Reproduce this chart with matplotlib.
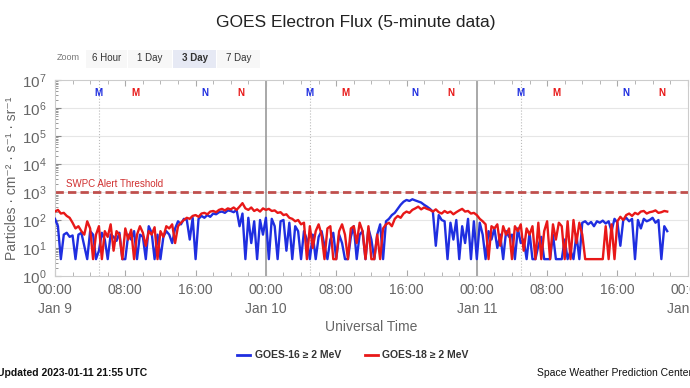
import numpy as np
import matplotlib.pyplot as plt
from matplotlib.patches import Rectangle
from matplotlib.ticker import FixedLocator, LogLocator, NullFormatter

plt.rcParams['font.family'] = ['Liberation Sans', 'DejaVu Sans']
plt.rcParams['mathtext.fontset'] = 'custom'
plt.rcParams['mathtext.rm'] = 'Liberation Sans'

# GOES-16 >= 2 MeV, 20-minute samples from 2023-01-09 00:00 UTC (4 hours per row)
goes16 = [
    110, 60, 4, 30, 35, 25, 28, 4, 30, 35, 12, 4,
    40, 30, 4, 8, 35, 20, 4, 30, 25, 18, 35, 4,
    4, 30, 20, 40, 4, 30, 25, 4, 60, 35, 4, 30,
    4, 25, 40, 30, 15, 50, 90, 70, 110, 100, 20, 120,
    4, 110, 140, 120, 150, 130, 170, 160, 190, 200, 180, 220,
    210, 190, 230, 60, 170, 4, 120, 15, 90, 4, 100, 30,
    120, 4, 110, 60, 4, 90, 100, 8, 80, 4, 60, 40,
    4, 40, 20, 4, 30, 4, 25, 40, 12, 4, 20, 35,
    4, 30, 15, 4, 4, 25, 60, 4, 30, 40, 4, 50,
    20, 4, 30, 70, 4, 90, 110, 150, 180, 250, 350, 450,
    520, 480, 550, 500, 460, 420, 350, 300, 250, 200, 12, 150,
    100, 90, 4, 80, 20, 100, 4, 60, 15, 110, 4, 90,
    4, 80, 30, 4, 40, 20, 50, 10, 30, 4, 40, 25,
    30, 4, 50, 15, 20, 4, 35, 4, 4, 12, 25, 4,
    4, 4, 30, 4, 4, 4, 20, 4, 8, 4, 30, 4,
    80, 90, 70, 85, 60, 90, 80, 95, 75, 90, 40, 110,
    80, 12, 100, 120, 90, 110, 4, 100, 50, 110, 90, 100,
    120, 80, 100, 4, 60, 40,
]

# GOES-18 >= 2 MeV, same sampling
goes18 = [
    200, 230, 170, 180, 140, 120, 80, 50, 60, 40, 30, 90,
    50, 4, 30, 60, 4, 40, 25, 70, 8, 40, 30, 4,
    50, 20, 45, 4, 30, 60, 35, 12, 40, 30, 55, 4,
    40, 25, 60, 50, 70, 15, 60, 80, 100, 120, 110, 140,
    150, 130, 170, 180, 160, 200, 210, 190, 230, 250, 220, 260,
    240, 280, 230, 300, 400, 260, 230, 280, 210, 240, 200, 260,
    230, 250, 210, 220, 180, 190, 150, 160, 120, 110, 90, 100,
    70, 80, 4, 60, 10, 40, 70, 30, 4, 50, 60, 4,
    4, 40, 70, 30, 4, 50, 60, 15, 80, 40, 4, 60,
    4, 4, 30, 4, 50, 70, 80, 60, 110, 140, 120, 170,
    200, 180, 230, 260, 300, 240, 280, 250, 230, 200, 240, 190,
    170, 210, 180, 200, 160, 190, 220, 250, 200, 210, 170, 180,
    150, 110, 90, 70, 4, 60, 50, 70, 12, 60, 30, 50,
    4, 60, 40, 70, 8, 50, 30, 60, 4, 80, 4, 40,
    90, 4, 70, 20, 80, 60, 4, 90, 4, 100, 15, 80,
    30, 4, 4, 4, 4, 4, 4, 4, 60, 4, 70, 4,
    90, 130, 100, 150, 170, 140, 180, 160, 200, 210, 170, 190,
    200, 220, 180, 190, 210, 200,
]

threshold = 1000
hour_ticks = [0, 8, 16, 24, 32, 40, 48, 56, 64, 72]
hour_labels = ['00:00\nJan 9', '08:00', '16:00', '00:00\nJan 10', '08:00', '16:00',
               '00:00\nJan 11', '08:00', '16:00', '00:00\nJan 12']
day_lines = [24, 48]
# local midnight / noon of each satellite (hours UTC)
g16_midnight = [5, 29, 53]
g16_noon = [17, 41, 65]
g18_midnight = [9.1, 33.1, 57.1]
g18_noon = [21.1, 45.1, 69.1]

blue = '#1f2ee0'
red = '#e81818'
grey_txt = '#666666'

t16 = np.arange(len(goes16)) / 3
t18 = np.arange(len(goes18)) / 3

fig = plt.figure(figsize=(6.9, 3.88), dpi=100)
ax = fig.add_axes([0.0797, 0.2887, 0.917, 0.505])

ax.set_yscale('log')
ax.set_ylim(1, 1e7)
ax.set_xlim(0, 72)

for y in [1e1, 1e2, 1e3, 1e4, 1e5, 1e6]:
    ax.axhline(y, color='#e6e6e6', lw=0.8, zorder=0)
for d in day_lines:
    ax.axvline(d, color='#999999', lw=1.2, zorder=1)
for m in g16_midnight:
    ax.axvline(m, color='#bbbbbb', lw=0.8, ls=':', zorder=1)

ax.plot(t16, goes16, color=blue, lw=1.7, zorder=3)
ax.plot(t18, goes18, color=red, lw=1.7, zorder=3)

ax.axhline(threshold, color='#c0504d', lw=2, ls=(0, (3, 1.5)), zorder=2)
ax.text(1.2, threshold * 1.25, 'SWPC Alert Threshold', color='#d03030',
        fontsize=7, va='bottom', ha='left')

for xs, lab, col in [(g16_midnight, 'M', blue), (g18_midnight, 'M', red),
                     (g16_noon, 'N', blue), (g18_noon, 'N', red)]:
    for x in xs:
        ax.text(x, 10 ** 6.55, lab, color=col, fontsize=7, fontweight='bold',
                ha='center', va='center')

for s in ['top', 'left', 'bottom', 'right']:
    ax.spines[s].set_color('#cccccc')
    ax.spines[s].set_linewidth(0.8)

ax.set_xticks(hour_ticks)
ax.set_xticklabels(hour_labels)
for lbl in ax.get_xticklabels():
    lbl.set_linespacing(1.45)
ax.xaxis.set_minor_locator(FixedLocator(np.arange(0, 73, 2)))
ax.tick_params(axis='x', which='both', direction='in', top=True, color='#aaaaaa',
               labelsize=10, labelcolor=grey_txt, pad=5)
ax.tick_params(axis='x', which='major', length=4)
ax.tick_params(axis='x', which='minor', length=3)
ax.yaxis.set_major_locator(LogLocator(base=10, numticks=10))
ax.yaxis.set_minor_locator(LogLocator(base=10, subs=np.arange(2, 10), numticks=20))
ax.yaxis.set_minor_formatter(NullFormatter())
ax.tick_params(axis='y', which='both', direction='in', color='#888888',
               labelsize=11, labelcolor=grey_txt, pad=6)
ax.tick_params(axis='y', which='major', length=4)
ax.tick_params(axis='y', which='minor', length=2)

ax.set_xlabel('Universal Time', fontsize=10, color=grey_txt, labelpad=3)
ax.set_ylabel('Particles · cm⁻² · s⁻¹ · sr⁻¹', fontsize=10, color=grey_txt, labelpad=2)

fig.text(0.515, 0.943, 'GOES Electron Flux (5-minute data)', fontsize=12.5,
         ha='center', va='center', color='#222222')

# range selector buttons
fig.text(68 / 690, 1 - 58 / 388, 'Zoom', fontsize=6.5, color='#777777',
         ha='center', va='center')
buttons = [('6 Hour', 86, 127), ('1 Day', 128, 172), ('3 Day', 173, 216), ('7 Day', 217, 260)]
for lab, x0, x1 in buttons:
    sel = lab == '3 Day'
    fig.patches.append(Rectangle((x0 / 690, 1 - 68 / 388), (x1 - x0) / 690, 18 / 388,
                                 transform=fig.transFigure,
                                 facecolor='#e6e9f4' if sel else '#f7f7f7',
                                 edgecolor='none'))
    fig.text((x0 + x1) / 2 / 690, 1 - 58 / 388, lab, fontsize=7, color='#333333',
             fontweight='bold' if sel else 'normal', ha='center', va='center')

# legend
ly = 1 - 355 / 388
fig.lines.append(plt.Line2D([237 / 690, 250 / 690], [ly, ly], color=blue, lw=2,
                            transform=fig.transFigure))
fig.text(255 / 690, ly, 'GOES-16 ≥ 2 MeV', fontsize=7.5, fontweight='bold',
         color='#333333', va='center')
fig.lines.append(plt.Line2D([365 / 690, 378 / 690], [ly, ly], color=red, lw=2,
                            transform=fig.transFigure))
fig.text(382 / 690, ly, 'GOES-18 ≥ 2 MeV', fontsize=7.5, fontweight='bold',
         color='#333333', va='center')

fig.text(-0.004, 1 - 373 / 388, 'Updated 2023-01-11 21:55 UTC', fontsize=7.5,
         fontweight='bold', color='#111111', va='center')
fig.text(537 / 690, 1 - 373 / 388, 'Space Weather Prediction Center', fontsize=7.5,
         color='#111111', va='center')

fig.savefig('out.png', dpi=100)
